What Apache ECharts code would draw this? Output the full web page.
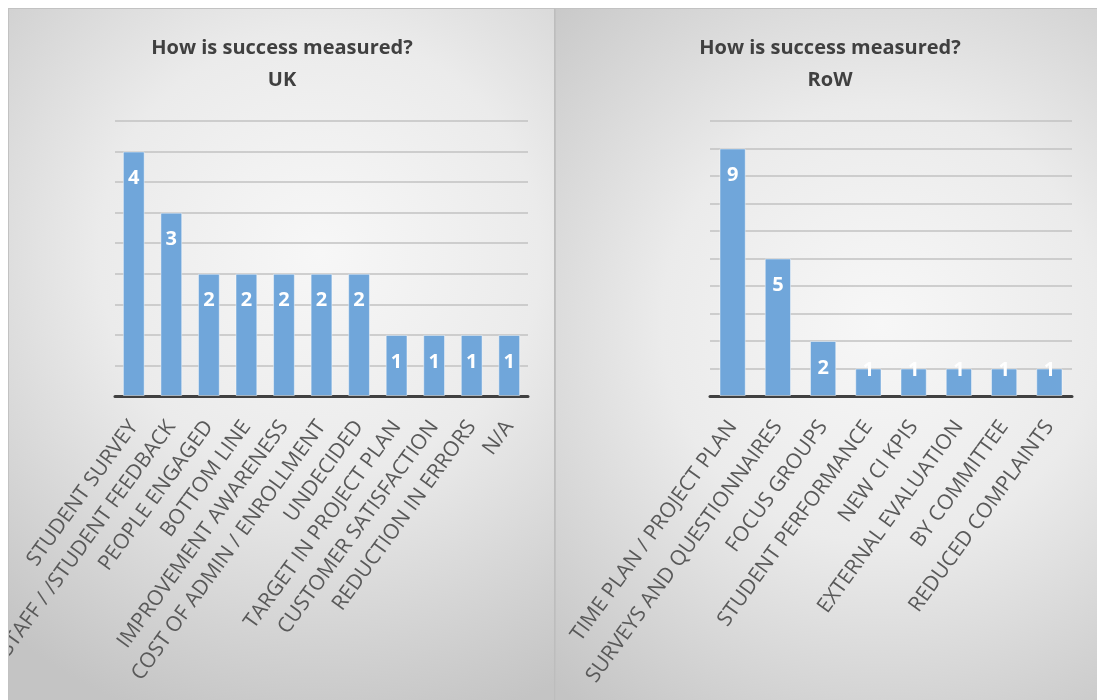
<!DOCTYPE html>
<html>
<head>
<meta charset="utf-8">
<script src="https://cdn.jsdelivr.net/npm/echarts@6/dist/echarts.min.js"></script>
<style>
  html, body { margin: 0; padding: 0; background: #ffffff; width: 1097px; height: 700px; overflow: hidden; }
  .panel { position: absolute; top: 8px; height: 700px; box-sizing: border-box; border-top: 1px solid #c2c2c2; border-left: 1px solid #c2c2c2; overflow: hidden; }
  #wrapL { left: 8px; width: 547px; border-right: 1px solid #bdbdbd; }
  #wrapR { left: 555px; width: 542px; }
  .chart { position: absolute; left: 0; top: 0; right: 0; bottom: 0; }
</style>
</head>
<body>
<div id="wrapL" class="panel"><div id="chartL" class="chart"></div></div>
<div id="wrapR" class="panel"><div id="chartR" class="chart"></div></div>
<script>
// ---- data ----
const titleText = 'How is success measured?';
const ukSubtitle = 'UK';
const rowSubtitle = 'RoW';

const ukCategories = [
  'STUDENT SURVEY',
  'STAFF / /STUDENT FEEDBACK',
  'PEOPLE ENGAGED',
  'BOTTOM LINE',
  'IMPROVEMENT AWARENESS',
  'COST OF ADMIN / ENROLLMENT',
  'UNDECIDED',
  'TARGET IN PROJECT PLAN',
  'CUSTOMER SATISFACTION',
  'REDUCTION IN ERRORS',
  'N/A'
];
const ukValues = [4, 3, 2, 2, 2, 2, 2, 1, 1, 1, 1];

const rowCategories = [
  'TIME PLAN / PROJECT PLAN',
  'SURVEYS AND QUESTIONNAIRES',
  'FOCUS GROUPS',
  'STUDENT PERFORMANCE',
  'NEW CI KPIS',
  'EXTERNAL EVALUATION',
  'BY COMMITTEE',
  'REDUCED COMPLAINTS'
];
const rowValues = [9, 5, 2, 1, 1, 1, 1, 1];

// ---- styling ----
const FONT = '"Open Sans", "DejaVu Sans", sans-serif';
const BAR_COLOR = '#70a6da';

function bg(cx, cy) {
  return {
    type: 'radial', x: cx, y: cy, r: 0.9,
    colorStops: [
      { offset: 0, color: '#f7f7f7' },
      { offset: 0.45, color: '#ebebeb' },
      { offset: 1, color: '#c4c4c4' }
    ]
  };
}

function makeOption(sub, cats, vals, yMax, yInterval, grid, titleLeft, bgc) {
  const gridH = 699 - grid.top - grid.bottom;
  const data = vals.map(v => {
    const px = v / yMax * gridH;
    return {
      value: v,
      label: px >= 45 ? { position: 'insideTop', distance: 17 } : { position: 'insideTop', distance: -8 }
    };
  });
  return {
    backgroundColor: bgc,
    animation: false,
    title: {
      text: titleText + '\n' + sub,
      left: titleLeft,
      top: 18,
      textAlign: 'center',
      textStyle: { fontFamily: FONT, fontWeight: 'bold', fontSize: 20, color: '#404040', lineHeight: 32 }
    },
    grid: {
      left: grid.left, right: grid.right, top: grid.top, bottom: grid.bottom,
      containLabel: false, outerBoundsMode: 'none'
    },
    xAxis: {
      type: 'category',
      data: cats,
      axisLine: { show: true, lineStyle: { color: '#404040', width: 3 } },
      axisTick: { show: false },
      axisLabel: {
        interval: 0,
        rotate: 54,
        margin: 27,
        fontFamily: FONT,
        fontSize: 21,
        color: '#595959'
      }
    },
    yAxis: {
      type: 'value',
      min: 0,
      max: yMax,
      interval: yInterval,
      axisLine: { show: false },
      axisTick: { show: false },
      axisLabel: { show: false },
      splitLine: { show: true, lineStyle: { color: '#c2c2c2', width: 1.5 } }
    },
    series: [{
      type: 'bar',
      data: data,
      barWidth: '58%',
      itemStyle: { color: BAR_COLOR, borderColor: 'rgba(255,255,255,0.45)', borderWidth: 1 },
      label: {
        show: true,
        color: '#ffffff',
        fontFamily: FONT,
        fontWeight: 'bold',
        fontSize: 20
      }
    }]
  };
}

const chartL = echarts.init(document.getElementById('chartL'), null, { renderer: 'canvas' });
chartL.setOption(makeOption(ukSubtitle, ukCategories, ukValues, 4.5, 0.5,
  { left: 106, right: 26, top: 112, bottom: 312 }, 268, bg(0.57, 0.35)));

const chartR = echarts.init(document.getElementById('chartR'), null, { renderer: 'canvas' });
chartR.setOption(makeOption(rowSubtitle, rowCategories, rowValues, 10, 1,
  { left: 154, right: 25, top: 112, bottom: 312 }, 269, bg(0.6, 0.45)));
</script>
</body>
</html>
